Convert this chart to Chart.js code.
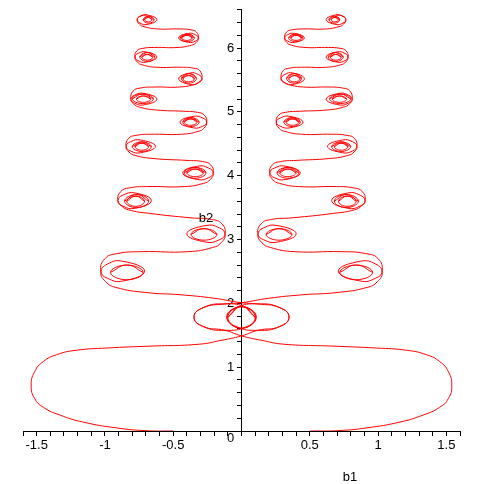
<!DOCTYPE html>
<html><head><meta charset="utf-8">
<script src="https://cdn.jsdelivr.net/npm/chart.js@4"></script>
<style>html,body{margin:0;padding:0;background:#fff}</style>
</head><body>
<canvas id="c" width="484" height="484"></canvas>
<script>
// Main curve whose upper branch is on the right (b1 > 0)
const rightX = [
0.5,0.7,0.92,1.16,1.33,1.45,1.515,1.54,1.515,1.45,1.355,1.21,0.99,0.67,0.31,0.15,0.0,
-0.12,-0.281,-0.348,-0.281,-0.12,0.041,0.108,0.041,-0.12,-0.281,-0.348,-0.281,-0.12,
0.0,0.2,0.45,
0.70,0.92,0.995,1.03,0.983,0.87,0.71,0.87,0.983,1.03,1.0,0.91,0.73,
0.39,0.211,0.149,0.12,0.161,0.26,0.40,0.26,0.161,0.12,0.145,0.22,0.37,
0.674,0.828,0.88,0.905,0.869,0.78,0.66,0.78,0.869,0.905,0.884,0.821,0.695,
0.418,0.277,0.229,0.207,0.24,0.32,0.43,0.32,0.24,0.207,0.226,0.284,0.399,
0.647,0.779,0.824,0.845,0.814,0.74,0.63,0.74,0.814,0.845,0.827,0.773,0.665,
0.44,0.317,0.275,0.255,0.284,0.3525,0.45,0.3525,0.284,0.255,0.272,0.322,0.423,
0.625,0.748,0.79,0.81,0.782,0.715,0.62,0.715,0.782,0.81,0.793,0.743,0.642,
0.455,0.345,0.308,0.29,0.315,0.375,0.46,0.375,0.315,0.29,0.305,0.35,0.44,
0.622,0.727,0.763,0.78,0.757,0.70,0.62,0.70,0.757,0.78,0.766,0.722,0.636,
0.465,0.366,0.332,0.316,0.337,0.388,0.46,0.388,0.337,0.316,0.33,0.37,0.45,
0.615,0.714,0.748,0.764,0.743,0.692,0.62,0.692,0.743,0.764,0.743,0.692
];
const rightY = [
0.0,0.005,0.05,0.14,0.25,0.37,0.51,0.71,0.93,1.09,1.195,1.265,1.30,1.33,1.36,1.42,1.49,
1.5775,1.638,1.785,1.932,1.9925,1.932,1.785,1.638,1.5775,1.638,1.785,1.932,1.99,
2.01,2.08,2.135,
2.17,2.25,2.34,2.49,2.615,2.66,2.505,2.35,2.395,2.505,2.70,2.78,2.81,
2.81,2.876,2.951,3.08,3.182,3.22,3.09,2.96,2.998,3.09,3.249,3.315,3.34,
3.41,3.466,3.529,3.61,3.695,3.73,3.61,3.49,3.525,3.61,3.753,3.809,3.83,
3.83,3.881,3.939,4.045,4.119,4.15,4.045,3.94,3.971,4.045,4.17,4.221,4.24,
4.27,4.318,4.372,4.46,4.531,4.56,4.46,4.36,4.389,4.46,4.584,4.632,4.65,
4.65,4.695,4.745,4.84,4.904,4.93,4.84,4.75,4.776,4.84,4.948,4.993,5.01,
5.03,5.075,5.125,5.20,5.264,5.29,5.20,5.11,5.136,5.20,5.328,5.373,5.39,
5.39,5.43,5.475,5.52,5.584,5.61,5.52,5.43,5.456,5.52,5.645,5.685,5.70,
5.70,5.738,5.782,5.86,5.917,5.94,5.86,5.78,5.803,5.86,5.957,5.996,6.01,
6.01,6.046,6.087,6.16,6.209,6.23,6.16,6.09,6.111,6.16,6.25,6.286,6.30,
6.30,6.336,6.377,6.445,6.498,6.52,6.445,6.37,6.392,6.445,6.498,6.52
];
// Mirror curve whose upper branch is on the left (b1 < 0)
const leftX = [
-0.5,-0.7,-0.92,-1.16,-1.33,-1.45,-1.515,-1.54,-1.515,-1.45,-1.355,-1.21,-0.99,-0.67,-0.31,-0.15,0.0,
0.12,0.281,0.348,0.281,0.12,-0.041,-0.108,-0.041,0.12,0.281,0.348,0.281,0.12,
0.0,-0.2,-0.45,
-0.70,-0.92,-0.995,-1.03,-0.983,-0.87,-0.71,-0.87,-0.983,-1.03,-1.0,-0.91,-0.73,
-0.39,-0.211,-0.149,-0.12,-0.161,-0.26,-0.40,-0.26,-0.161,-0.12,-0.145,-0.22,-0.37,
-0.674,-0.828,-0.88,-0.905,-0.869,-0.78,-0.66,-0.78,-0.869,-0.905,-0.884,-0.821,-0.695,
-0.418,-0.277,-0.229,-0.207,-0.24,-0.32,-0.43,-0.32,-0.24,-0.207,-0.226,-0.284,-0.399,
-0.647,-0.779,-0.824,-0.845,-0.814,-0.74,-0.63,-0.74,-0.814,-0.845,-0.827,-0.773,-0.665,
-0.44,-0.317,-0.275,-0.255,-0.284,-0.3525,-0.45,-0.3525,-0.284,-0.255,-0.272,-0.322,-0.423,
-0.625,-0.748,-0.79,-0.81,-0.782,-0.715,-0.62,-0.715,-0.782,-0.81,-0.793,-0.743,-0.642,
-0.455,-0.345,-0.308,-0.29,-0.315,-0.375,-0.46,-0.375,-0.315,-0.29,-0.305,-0.35,-0.44,
-0.622,-0.727,-0.763,-0.78,-0.757,-0.70,-0.62,-0.70,-0.757,-0.78,-0.766,-0.722,-0.636,
-0.465,-0.366,-0.332,-0.316,-0.337,-0.388,-0.46,-0.388,-0.337,-0.316,-0.33,-0.37,-0.45,
-0.615,-0.714,-0.748,-0.764,-0.743,-0.692,-0.62,-0.692,-0.743,-0.764,-0.743,-0.692
];
const leftY = rightY;

// Inner rings of the spirals (extent of each ring)
const ringY1 = [1.61,2.37,2.99,3.50,3.52,3.96,3.985,4.38,4.40,4.77,4.79,5.13,5.15,5.45,5.47,5.79,5.81,6.10,6.12,6.39,6.41];
const ringY2 = [1.95,2.60,3.17,3.705,3.68,4.13,4.105,4.53,4.51,4.91,4.89,5.28,5.25,5.60,5.57,5.93,5.90,6.22,6.20,6.50,6.48];
const ringX1R = [-0.1,0.72,0.18,0.68,0.71,0.26,0.28,0.66,0.68,0.31,0.325,0.645,0.665,0.33,0.345,0.635,0.65,0.345,0.36,0.64,0.655];
const ringX2R = [0.105,0.96,0.37,0.856,0.84,0.42,0.40,0.80,0.78,0.43,0.42,0.80,0.77,0.44,0.43,0.745,0.73,0.45,0.44,0.72,0.71];
const ringX1L = [-0.105,-0.96,-0.37,-0.856,-0.84,-0.42,-0.40,-0.80,-0.78,-0.43,-0.42,-0.80,-0.77,-0.44,-0.43,-0.745,-0.73,-0.45,-0.44,-0.72,-0.71];
const ringX2L = [0.1,-0.72,-0.18,-0.68,-0.71,-0.26,-0.28,-0.66,-0.68,-0.31,-0.325,-0.645,-0.665,-0.33,-0.345,-0.635,-0.65,-0.345,-0.36,-0.64,-0.655];

const xTickLabels = [-1.5,-1,-0.5,0.5,1,1.5];
const yTickLabels = [0,1,2,3,4,5,6];
const xAxisTitle = 'b1';
const yAxisTitle = 'b2';

const RED = '#ff0000';
function toPts(xs, ys){ return xs.map((x,i)=>({x:x, y:ys[i]})); }
function ringPts(x1,x2,y1,y2){
  const mx=(x1+x2)/2, my=(y1+y2)/2;
  return [{x:x2,y:my},{x:mx,y:y2},{x:x1,y:my},{x:mx,y:y1},{x:x2,y:my},{x:mx,y:y2},{x:x1,y:my}];
}
const lineStyle = {showLine:true, pointRadius:0, borderColor:RED, borderWidth:1, tension:0.5, fill:false};
const datasets = [
  Object.assign({data: toPts(rightX, rightY)}, lineStyle),
  Object.assign({data: toPts(leftX, leftY)}, lineStyle)
];
for (let i=0;i<ringY1.length;i++){
  datasets.push(Object.assign({data: ringPts(ringX1R[i],ringX2R[i],ringY1[i],ringY2[i])}, lineStyle));
  datasets.push(Object.assign({data: ringPts(ringX1L[i],ringX2L[i],ringY1[i],ringY2[i])}, lineStyle));
}
const near = (arr, v) => arr.some(a => Math.abs(a - v) < 1e-6);
const FONT = {family:'"Liberation Sans", Arial, sans-serif', size:13};

const titles = {
  id:'titles',
  afterDraw(chart){
    const ctx = chart.ctx;
    ctx.save();
    ctx.fillStyle = '#000';
    ctx.font = '13px "Liberation Sans", Arial, sans-serif';
    ctx.textAlign = 'center';
    ctx.textBaseline = 'middle';
    ctx.fillText(xAxisTitle, 350, 477);
    ctx.fillText(yAxisTitle, 206, 218);
    ctx.restore();
  }
};

new Chart(document.getElementById('c'), {
  type:'scatter',
  data:{datasets},
  options:{
    responsive:false, animation:false, devicePixelRatio:1,
    layout:{padding:{left:23,right:24,top:5,bottom:53}},
    plugins:{legend:{display:false}, tooltip:{enabled:false}},
    elements:{line:{capBezierPoints:false}},
    scales:{
      x:{type:'linear', min:-1.6, max:1.6, position:{y:0},
        afterFit:(s)=>{s.height=0;},
        border:{display:true,color:'#000',width:1},
        grid:{drawOnChartArea:false, drawTicks:true, tickLength:4, color:'#000'},
        ticks:{stepSize:0.1, autoSkip:false, maxRotation:0, color:'#000', font:FONT, padding:3,
          callback:(v)=> near(xTickLabels, v) ? String(Math.round(v*10)/10) : ''}
      },
      y:{type:'linear', min:0, max:6.6, position:{x:0},
        afterFit:(s)=>{s.width=0;},
        border:{display:true,color:'#000',width:1},
        grid:{drawOnChartArea:false, drawTicks:true, tickLength:4, color:'#000'},
        ticks:{stepSize:0.2, autoSkip:false, color:'#000', font:FONT, padding:2,
          callback:(v)=> {
            if (!near(yTickLabels, v)) return '';
            const t = String(Math.round(v)) + '  ';
            return Math.abs(v) < 1e-6 ? ['', t] : t;
          }}
      }
    }
  },
  plugins:[titles]
});
</script>
</body></html>
